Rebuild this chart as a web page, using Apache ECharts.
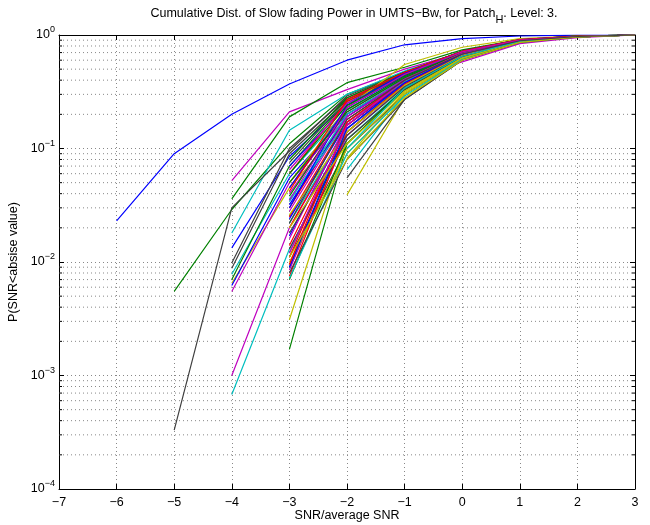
<!DOCTYPE html>
<html>
<head>
<meta charset="utf-8">
<script src="https://cdn.jsdelivr.net/npm/echarts@6/dist/echarts.min.js"></script>
<style>html,body{margin:0;padding:0;background:#fff;overflow:hidden;}#c{width:650px;height:525px;}</style>
</head>
<body>
<div id="c"></div>
<script>
// x positions of the curve samples (SNR / average SNR)
const snrX = [-6, -5, -4, -3, -2, -1, 0, 1, 2, 3];
// x tick labels and y decade tick values
const xTicks = [-7, -6, -5, -4, -3, -2, -1, 0, 1, 2, 3];
const yDecades = [1e-4, 1e-3, 1e-2, 1e-1, 1];
const xAxisTitle = 'SNR/average SNR';
const yAxisTitle = 'P(SNR<absise value)';
// cumulative probability curves (null = curve not defined there)
const curves = [
  [0.023, 0.09, 0.2, 0.37, 0.6, 0.82, 0.93, 0.98, 0.997, 1],
  [null, 0.0055, 0.029, 0.11, 0.3, 0.47, 0.7, 0.9, 0.97, 1],
  [null, null, null, 0.045, 0.22, 0.42, 0.7, 0.9, 0.97, 1],
  [null, null, 0.018, 0.145, 0.3, 0.48, 0.72, 0.9, 0.97, 1],
  [null, null, 0.052, 0.21, 0.33, 0.5, 0.7, 0.89, 0.97, 1],
  [null, null, 0.0065, 0.045, 0.17, 0.38, 0.66, 0.88, 0.97, 1],
  [null, 0.00033, 0.03, 0.095, 0.29, 0.47, 0.72, 0.9, 0.98, 1],
  [null, null, 0.0133, 0.085, 0.25, 0.45, 0.7, 0.89, 0.97, 1],
  [null, null, 0.036, 0.19, 0.38, 0.52, 0.74, 0.91, 0.98, 1],
  [null, null, null, 0.03, 0.2, 0.41, 0.68, 0.89, 0.97, 1],
  [null, null, 0.0078, 0.06, 0.22, 0.42, 0.68, 0.89, 0.97, 1],
  [null, null, 0.0055, 0.05, 0.19, 0.4, 0.68, 0.9, 0.98, 1],
  [null, null, null, 0.0031, 0.12, 0.33, 0.64, 0.87, 0.96, 1],
  [null, null, 0.0098, 0.1, 0.28, 0.47, 0.72, 0.9, 0.98, 1],
  [null, null, 0.0062, 0.055, 0.2, 0.4, 0.67, 0.88, 0.97, 1],
  [null, null, 0.007, 0.07, 0.26, 0.45, 0.7, 0.9, 0.98, 1],
  [null, null, null, 0.025, 0.18, 0.4, 0.69, 0.9, 0.97, 1],
  [null, null, 0.00068, 0.013, 0.12, 0.34, 0.64, 0.86, 0.96, 1],
  [null, null, 0.001, 0.02, 0.15, 0.36, 0.65, 0.87, 0.96, 1],
  [null, null, null, null, 0.039, 0.28, 0.62, 0.87, 0.96, 1],
  [null, null, 0.0088, 0.09, 0.27, 0.46, 0.71, 0.91, 0.98, 1],
  [null, null, null, 0.07, 0.24, 0.44, 0.7, 0.9, 0.97, 1],
  [null, null, null, 0.0017, 0.11, 0.33, 0.64, 0.87, 0.96, 1],
  [null, null, null, 0.06, 0.26, 0.46, 0.71, 0.9, 0.97, 1],
  [null, null, null, null, 0.065, 0.3, 0.63, 0.87, 0.96, 1],
  [null, null, null, 0.04, 0.21, 0.42, 0.69, 0.89, 0.97, 1],
  [null, null, null, null, 0.082, 0.32, 0.65, 0.88, 0.97, 1],
  [null, null, null, null, 0.055, 0.27, 0.6, 0.86, 0.96, 1],
  [null, null, null, 0.032, 0.19, 0.41, 0.69, 0.9, 0.97, 1],
  [null, null, null, 0.08, 0.28, 0.47, 0.72, 0.91, 0.98, 1],
  [null, null, null, 0.02, 0.16, 0.38, 0.67, 0.89, 0.97, 1],
  [null, null, null, 0.012, 0.14, 0.36, 0.66, 0.88, 0.97, 1],
  [null, null, null, 0.065, 0.25, 0.42, 0.58, 0.84, 0.95, 1],
  [null, null, null, 0.05, 0.23, 0.55, 0.78, 0.93, 0.98, 1],
  [null, null, null, 0.011, 0.1, 0.3, 0.62, 0.86, 0.96, 1],
  [null, null, null, 0.024, 0.17, 0.39, 0.68, 0.89, 0.97, 1],
  [null, null, null, 0.009, 0.14, 0.37, 0.66, 0.88, 0.97, 1],
  [null, null, null, 0.014, 0.15, 0.38, 0.67, 0.89, 0.97, 1],
  [null, null, null, 0.034, 0.2, 0.41, 0.69, 0.9, 0.97, 1],
  [null, null, null, 0.0085, 0.13, 0.36, 0.66, 0.88, 0.97, 1],
  [null, null, null, 0.01, 0.09, 0.3, 0.62, 0.87, 0.96, 1],
  [null, null, null, 0.075, 0.27, 0.46, 0.71, 0.9, 0.97, 1],
  [null, null, null, 0.017, 0.16, 0.38, 0.67, 0.89, 0.97, 1],
  [null, null, null, 0.038, 0.22, 0.43, 0.7, 0.9, 0.98, 1],
  [null, null, null, 0.011, 0.16, 0.39, 0.68, 0.89, 0.97, 1],
  [null, null, null, 0.022, 0.15, 0.37, 0.66, 0.88, 0.97, 1],
  [null, null, null, 0.028, 0.19, 0.41, 0.69, 0.9, 0.97, 1],
  [null, null, null, 0.0095, 0.1, 0.31, 0.63, 0.87, 0.96, 1],
  [null, null, null, 0.013, 0.12, 0.33, 0.64, 0.87, 0.96, 1],
  [null, null, null, 0.045, 0.23, 0.44, 0.7, 0.9, 0.97, 1],
  [null, null, null, 0.007, 0.11, 0.34, 0.65, 0.88, 0.97, 1],
  [null, null, null, 0.0075, 0.14, 0.37, 0.67, 0.89, 0.97, 1],
  [null, null, null, 0.036, 0.17, 0.39, 0.68, 0.89, 0.97, 1],
  [null, null, null, 0.016, 0.17, 0.4, 0.69, 0.9, 0.97, 1],
  [null, null, null, 0.026, 0.14, 0.36, 0.66, 0.88, 0.97, 1],
  [null, null, null, 0.018, 0.13, 0.35, 0.65, 0.88, 0.97, 1],
  [null, null, null, 0.009, 0.15, 0.38, 0.68, 0.89, 0.97, 1],
  [null, null, null, 0.05, 0.21, 0.42, 0.7, 0.9, 0.98, 1],
  [null, null, null, 0.0095, 0.17, 0.4, 0.69, 0.9, 0.97, 1],
  [null, null, null, 0.0072, 0.09, 0.29, 0.61, 0.86, 0.96, 1],
  [null, null, null, 0.012, 0.16, 0.4, 0.69, 0.9, 0.97, 1],
  [null, null, null, 0.02, 0.11, 0.32, 0.63, 0.87, 0.96, 1],
  [null, null, null, 0.008, 0.08, 0.27, 0.6, 0.86, 0.96, 1],
  [null, null, null, 0.03, 0.24, 0.46, 0.72, 0.91, 0.98, 1],
  [null, null, null, 0.06, 0.24, 0.44, 0.71, 0.9, 0.98, 1],
  [null, null, null, 0.042, 0.27, 0.47, 0.72, 0.91, 0.98, 1],
  [null, null, null, null, 0.1, 0.34, 0.65, 0.88, 0.97, 1],
  [null, null, null, 0.035, 0.23, 0.45, 0.71, 0.9, 0.97, 1],
  [null, null, null, 0.011, 0.08, 0.28, 0.6, 0.86, 0.96, 1],
  [null, null, null, 0.022, 0.18, 0.4, 0.68, 0.89, 0.97, 1]
];

const colorOrder = ['#0000ff', '#008000', '#ff0000', '#00bfbf', '#bf00bf', '#bfbf00', '#404040'];
const FONT = '"Liberation Sans", Arial, Helvetica, sans-serif';
const FS = 12.5;

// minor log ticks (2..9 x each decade)
const minorVals = [];
for (let d = 0; d < yDecades.length - 1; d++) {
  for (let m = 2; m <= 9; m++) minorVals.push(+(yDecades[d] * m).toPrecision(3));
}

const fmtNum = v => (v < 0 ? '\u2212' + Math.abs(v) : String(v));

const chart = echarts.init(document.getElementById('c'), null, {renderer: 'canvas', width: 650, height: 525});

const series = curves.map((c, i) => ({
  type: 'line',
  xAxisIndex: 0, yAxisIndex: 0,
  data: snrX.map((x, k) => [x, c[k]]).filter(p => p[1] !== null),
  showSymbol: false,
  symbol: 'none',
  lineStyle: {width: 1.2, color: colorOrder[i % colorOrder.length]},
  itemStyle: {color: colorOrder[i % colorOrder.length]},
  silent: true,
  z: 3
}));

// minor gridlines + minor ticks on the left/right edges
series.unshift({
  type: 'custom',
  xAxisIndex: 0, yAxisIndex: 0,
  silent: true,
  z: 1,
  data: minorVals.map(v => [xTicks[0], v]),
  renderItem: function (params, api) {
    const v = api.value(1);
    const p0 = api.coord([xTicks[0], v]);
    const p1 = api.coord([xTicks[xTicks.length - 1], v]);
    return {
      type: 'group',
      children: [
        {type: 'line', shape: {x1: p0[0], y1: p0[1], x2: p1[0], y2: p1[1]},
         style: {stroke: '#888', lineWidth: 1, lineDash: [1, 3]}},
        {type: 'line', shape: {x1: p0[0], y1: p0[1], x2: p0[0] + 3, y2: p0[1]},
         style: {stroke: '#000', lineWidth: 1}},
        {type: 'line', shape: {x1: p1[0], y1: p1[1], x2: p1[0] - 3, y2: p1[1]},
         style: {stroke: '#000', lineWidth: 1}}
      ]
    };
  }
});

const option = {
  animation: false,
  backgroundColor: '#fff',
  title: {
    text: 'Cumulative Dist. of Slow fading Power in UMTS\u2212Bw, for Patch{sub|H}. Level: 3.',
    left: 349, top: 1, textAlign: 'center',
    textStyle: {
      fontFamily: FONT, fontSize: FS, fontWeight: 'normal', color: '#000',
      lineHeight: 16,
      rich: {sub: {fontFamily: FONT, fontSize: 11, color: '#000', padding: [11, 0, 0, 0], lineHeight: 16}}
    }
  },
  graphic: [{
    type: 'text', silent: true,
    style: {x: 347, y: 516, text: xAxisTitle, font: FS + 'px ' + FONT, fill: '#000',
            textAlign: 'center', textVerticalAlign: 'middle', align: 'center', verticalAlign: 'middle'}
  }],
  grid: {left: 59, top: 35, width: 576, height: 454, containLabel: false, outerBoundsMode: 'none'},
  xAxis: [
    {
      type: 'value', min: -7, max: 3, interval: 1,
      position: 'bottom',
      axisLine: {show: true, onZero: false, lineStyle: {color: '#000', width: 1}},
      axisTick: {show: true, inside: true, length: 5, lineStyle: {color: '#000'}},
      axisLabel: {fontFamily: FONT, fontSize: FS, color: '#000', margin: 7, formatter: fmtNum},
      splitLine: {show: true, lineStyle: {color: '#888', type: [1, 3], width: 1}}
    },
    {
      type: 'value', min: -7, max: 3, interval: 1,
      position: 'top',
      axisLine: {show: true, onZero: false, lineStyle: {color: '#000', width: 1}},
      axisTick: {show: true, inside: true, length: 5, lineStyle: {color: '#000'}},
      axisLabel: {show: false},
      splitLine: {show: false}
    }
  ],
  yAxis: [
    {
      type: 'log', logBase: 10, min: 1e-4, max: 1,
      position: 'left',
      axisLine: {show: true, onZero: false, lineStyle: {color: '#000', width: 1}},
      axisTick: {show: true, inside: true, length: 5, lineStyle: {color: '#000'}},
      axisLabel: {
        fontFamily: FONT, fontSize: FS, color: '#000', margin: 4,
        formatter: function (v) {
          const e = Math.round(Math.log10(v));
          return '10{sup|' + fmtNum(e) + '}';
        },
        rich: {sup: {fontFamily: FONT, fontSize: 9, color: '#000', padding: [0, 0, 10, 0]}}
      },
      splitLine: {show: true, lineStyle: {color: '#888', type: [1, 3], width: 1}},
      name: yAxisTitle, nameLocation: 'middle', nameGap: 38, nameRotate: 90,
      nameTextStyle: {fontFamily: FONT, fontSize: FS, color: '#000'}
    },
    {
      type: 'log', logBase: 10, min: 1e-4, max: 1,
      position: 'right',
      axisLine: {show: true, onZero: false, lineStyle: {color: '#000', width: 1}},
      axisTick: {show: true, inside: true, length: 5, lineStyle: {color: '#000'}},
      axisLabel: {show: false},
      splitLine: {show: false}
    }
  ],
  series: series
};

chart.setOption(option);
</script>
</body>
</html>
